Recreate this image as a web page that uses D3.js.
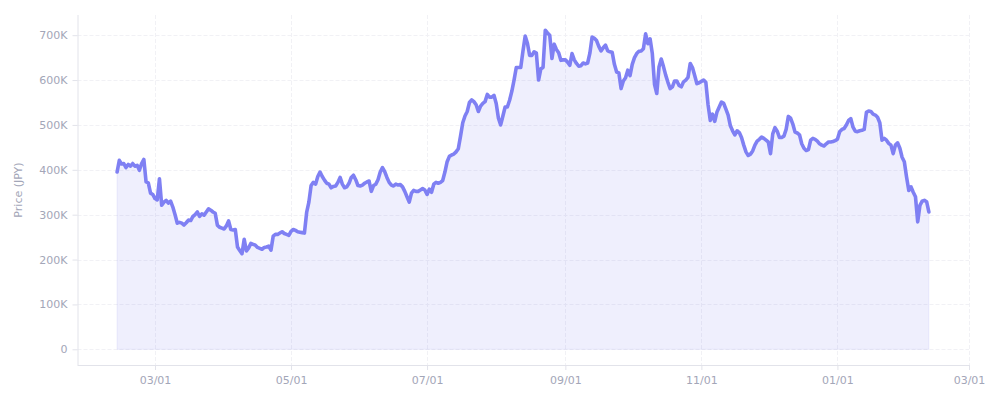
<!DOCTYPE html>
<html>
<head>
<meta charset="utf-8">
<script src="https://cdn.jsdelivr.net/npm/d3@7"></script>
<style>
  html, body { margin: 0; padding: 0; background: #ffffff; }
  svg { display: block; font-family: "DejaVu Sans", Verdana, sans-serif; }
</style>
</head>
<body>
<svg id="chart" width="1000" height="400"></svg>
<script>
// Daily closing prices, in thousands of JPY, starting 2021-02-12
const startDate = "2021-02-12";
const feb2021 = [395,421,413,414,405,412,408,414,408,410,399,414,423,373,371,348,345];
const mar2021 = [336,333,380,321,328,332,326,330,317,300,281,283,281,277,282,288,287,296,300,306,296,302,299,306,313,310,306,303,276,272,270];
const apr2021 = [268,275,286,267,266,267,228,220,213,245,219,226,236,234,232,227,225,223,227,228,230,221,252,256,256,259,262,258,256,254];
const may2021 = [263,267,265,262,261,260,259,305,328,365,372,368,385,395,385,377,370,368,360,363,364,372,383,368,360,362,370,383,388,378,365];
const jun2021 = [364,366,370,373,375,352,365,368,378,395,405,396,383,372,366,364,368,366,367,362,352,340,328,348,354,352,352,355,358,355];
const jul2021 = [345,357,350,368,372,370,372,376,395,418,430,433,435,440,447,475,505,520,530,550,556,552,545,530,542,548,552,568,562,562,566];
const aug2021 = [548,515,500,520,540,540,555,575,600,628,628,628,665,698,682,655,655,663,660,600,625,628,711,705,700,648,680,668,661,644,645];
const sep2021 = [645,640,633,659,645,637,631,632,638,636,638,660,696,693,688,675,665,672,678,665,663,662,635,618,616,581,598,605,622,610];
const oct2021 = [635,650,659,664,665,670,703,681,692,659,590,570,629,647,630,611,595,581,585,598,598,588,585,596,600,606,637,628,610,592,594];
const nov2021 = [597,600,595,545,510,524,508,529,540,551,548,535,522,498,487,478,487,483,472,455,440,432,435,442,455,464,468,473,470,466];
const dec2021 = [462,436,480,494,486,472,472,475,490,519,515,502,484,482,478,458,448,443,445,466,470,468,464,458,455,453,458,462,462,463,465];
const jan2022 = [468,485,490,492,500,510,514,495,486,485,487,488,490,528,531,530,524,522,517,505,466,470,466,459,455,436,455,460,448,428,418];
const feb2022 = [384,354,362,350,340,284,321,330,332,329,306];

const yTicks = [0, 100000, 200000, 300000, 400000, 500000, 600000, 700000];
const yTickLabels = ["0", "100K", "200K", "300K", "400K", "500K", "600K", "700K"];
const xTicks = ["2021-03-01", "2021-05-01", "2021-07-01", "2021-09-01", "2021-11-01", "2022-01-01", "2022-03-01"];
const xDomain = ["2021-01-25T06:00", "2022-03-01"];
const yDomain = [-35000, 745000];
const yLabel = "Price (JPY)";

const parse = d3.isoParse;
const allK = [].concat(feb2021, mar2021, apr2021, may2021, jun2021, jul2021, aug2021, sep2021, oct2021, nov2021, dec2021, jan2022, feb2022);
const start = parse(startDate);
const data = allK.map((v, i) => ({ date: d3.timeDay.offset(start, i), value: v * 1000 }));

const svg = d3.select("#chart");
const mLeft = 77.5, mRight = 969, mTop = 15, mBottom = 365;

const x = d3.scaleTime().domain(xDomain.map(parse)).range([mLeft, mRight]);
const y = d3.scaleLinear().domain(yDomain).range([mBottom, mTop]);

const axisColor = "#e2e3ea";
const textColor = "#a3a6b8";
const gridColor = "#f1f1f5";

// grid
const grid = svg.append("g");
grid.selectAll("line.h").data(yTicks).join("line")
  .attr("x1", mLeft).attr("x2", mRight)
  .attr("y1", d => Math.round(y(d)) + 0.5).attr("y2", d => Math.round(y(d)) + 0.5)
  .attr("stroke", gridColor).attr("stroke-dasharray", "4,2");
grid.selectAll("line.v").data(xTicks.map(parse)).join("line")
  .attr("x1", d => Math.round(x(d)) + 0.5).attr("x2", d => Math.round(x(d)) + 0.5)
  .attr("y1", mTop).attr("y2", mBottom)
  .attr("stroke", gridColor).attr("stroke-dasharray", "4,2");

// area
const area = d3.area()
  .x(d => x(d.date)).y0(y(0)).y1(d => y(d.value));
svg.append("path").datum(data)
  .attr("d", area)
  .attr("fill", "rgba(128,128,240,0.13)")
  .attr("stroke", "rgba(128,128,240,0.12)")
  .attr("stroke-width", 1);

// line
const line = d3.line()
  .x(d => x(d.date)).y(d => y(d.value));
svg.append("path").datum(data)
  .attr("d", line)
  .attr("fill", "none")
  .attr("stroke", "#7f80f3")
  .attr("stroke-width", 3.6)
  .attr("stroke-linejoin", "round")
  .attr("stroke-linecap", "round");

// y axis
const yAxis = d3.axisLeft(y).tickValues(yTicks)
  .tickFormat((d, i) => yTickLabels[i]).tickSize(5).tickPadding(5);
const gy = svg.append("g").attr("transform", `translate(${mLeft},0)`).call(yAxis);
gy.select(".domain").attr("stroke", axisColor).attr("d", `M0.5,${mTop}V${mBottom}`);
gy.selectAll(".tick line").attr("stroke", axisColor);
gy.selectAll(".tick text").attr("fill", textColor).attr("font-size", 11)
  .attr("font-family", "DejaVu Sans, sans-serif");

// x axis
const xAxis = d3.axisBottom(x).tickValues(xTicks.map(parse))
  .tickFormat(d3.timeFormat("%m/%d")).tickSize(5).tickPadding(6);
const gx = svg.append("g").attr("transform", `translate(0,${mBottom})`).call(xAxis);
gx.select(".domain").attr("stroke", axisColor).attr("d", `M${mLeft},0.5H${mRight}`);
gx.selectAll(".tick line").attr("stroke", axisColor);
gx.selectAll(".tick text").attr("fill", textColor).attr("font-size", 11)
  .attr("font-family", "DejaVu Sans, sans-serif");

// y label
svg.append("text")
  .attr("transform", `translate(22,${(mTop + mBottom) / 2}) rotate(-90)`)
  .attr("text-anchor", "middle")
  .attr("fill", textColor)
  .attr("font-size", 11)
  .text(yLabel);
</script>
</body>
</html>
